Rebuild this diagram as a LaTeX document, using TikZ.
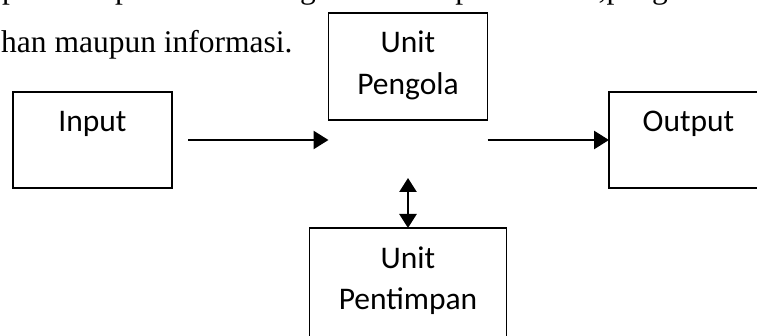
\documentclass[tikz,border=0pt]{standalone}
\usepackage{fontspec}
\setmainfont{Liberation Serif}
\newfontfamily\boxfont{Carlito}
\usetikzlibrary{arrows.meta}

\tikzset{
  unitbox/.style={draw=black, line width=1.7pt, minimum width=159pt, minimum height=96pt,
                  inner sep=0pt, outer sep=0pt},
  boxtext/.style={font=\boxfont\fontsize{31.5}{41}\selectfont, inner sep=0pt, anchor=base},
  bodytext/.style={font=\fontsize{31.5}{41}\selectfont, inner sep=0pt, anchor=base west},
  flow/.style={line width=2.6pt, -{Triangle[length=15pt,width=18pt]}},
  exchange/.style={line width=2.6pt, {Triangle[length=14pt,width=17pt]}-{Triangle[length=14pt,width=17pt]}}
}

\begin{document}
\begin{tikzpicture}[x=1pt, y=-1pt]
  \useasboundingbox (0,0) rectangle (757,336);
  \clip (0,0) rectangle (757,336);
  \fill[white] (0,0) rectangle (757,336);

  % paragraph text running above the diagram
  \foreach \xpos/\word in {2/prosesor, 115/pemroses, 244/sebagai, 350/alat, 408/tempat, 546/{data,pengolahan}}
    \node[bodytext] at (\xpos,-1) {\word};
  \node[bodytext] (para) at (1,53) {han maupun informasi.};

  % boxes
  \node[unitbox] (in)  at (92.5,140) {};
  \node[unitbox, minimum height=107pt] (pg) at (408,66.5) {};
  \node[unitbox] (out) at (688.5,140) {};
  \node[unitbox, minimum width=197pt, minimum height=130pt] (pt) at (408,293) {};

  % box labels
  \path (in.north)  ++(0,40) node[boxtext] (inlbl) {Input};
  \path (pg.north)  ++(0,40) node[boxtext] (pglbl1) {Unit}
                    ++(0,42) node[boxtext] (pglbl2) {Pengola};
  \path (out.north) ++(0,40) node[boxtext] (outlbl) {Output};
  \path (pt.north)  ++(0,41) node[boxtext] (ptlbl1) {Unit}
                    ++(0,40) node[boxtext] (ptlbl2) {Pentimpan};

  % connectors
  \coordinate (inlink) at ([xshift=16pt]in.east);
  \coordinate (pgin)   at (pg.south west |- in.east);
  \coordinate (pgout)  at (pg.south east |- out.west);
  \coordinate (pgmem)  at (408,178);

  \draw[flow] (inlink) -- (pgin);
  \draw[flow] (pgout) -- (out.west);
  \draw[exchange] (pgmem) -- (pt.north);
\end{tikzpicture}
\end{document}
